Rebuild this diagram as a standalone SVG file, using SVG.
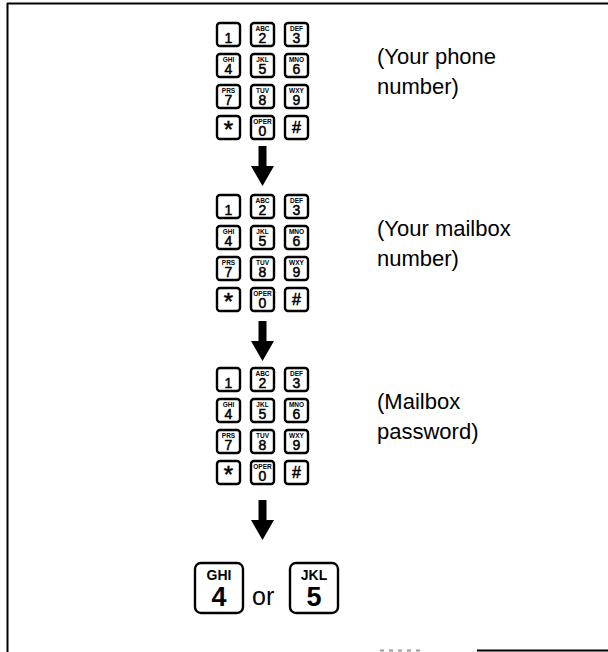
<svg xmlns="http://www.w3.org/2000/svg" width="608" height="652" viewBox="0 0 608 652">
<defs>
<style>
.k{fill:#fff;stroke:#000;stroke-width:2.4}
.s{font-family:"Liberation Sans",Arial,sans-serif;font-weight:bold;font-size:6.5px;text-anchor:middle;fill:#000}
.d{font-family:"Liberation Sans",Arial,sans-serif;font-size:14px;text-anchor:middle;fill:#000;stroke:#000;stroke-width:0.5}
.t{font-family:"Liberation Sans",Arial,sans-serif;font-size:22px;fill:#000}
.bk{fill:#fff;stroke:#000;stroke-width:2.4}
.bs{font-family:"Liberation Sans",Arial,sans-serif;font-weight:bold;font-size:14px;text-anchor:middle;fill:#000}
.bd{font-family:"Liberation Sans",Arial,sans-serif;font-weight:bold;font-size:27px;text-anchor:middle;fill:#000}
.ar{fill:#000}
</style>
<g id="keypad">
<rect class="k" x="0" y="0" width="23" height="23" rx="3"/><text class="d" x="11.5" y="20">1</text>
<rect class="k" x="34" y="0" width="23" height="23" rx="3"/><text class="s" x="45.5" y="8">ABC</text><text class="d" x="45.5" y="20">2</text>
<rect class="k" x="68" y="0" width="23" height="23" rx="3"/><text class="s" x="79.5" y="8">DEF</text><text class="d" x="79.5" y="20">3</text>
<rect class="k" x="0" y="31" width="23" height="23" rx="3"/><text class="s" x="11.5" y="39">GHI</text><text class="d" x="11.5" y="51">4</text>
<rect class="k" x="34" y="31" width="23" height="23" rx="3"/><text class="s" x="45.5" y="39">JKL</text><text class="d" x="45.5" y="51">5</text>
<rect class="k" x="68" y="31" width="23" height="23" rx="3"/><text class="s" x="79.5" y="39">MNO</text><text class="d" x="79.5" y="51">6</text>
<rect class="k" x="0" y="62" width="23" height="23" rx="3"/><text class="s" x="11.5" y="70">PRS</text><text class="d" x="11.5" y="82">7</text>
<rect class="k" x="34" y="62" width="23" height="23" rx="3"/><text class="s" x="45.5" y="70">TUV</text><text class="d" x="45.5" y="82">8</text>
<rect class="k" x="68" y="62" width="23" height="23" rx="3"/><text class="s" x="79.5" y="70">WXY</text><text class="d" x="79.5" y="82">9</text>
<rect class="k" x="0" y="93" width="23" height="23" rx="3"/><text class="d" x="11.5" y="115" style="font-size:24px">*</text>
<rect class="k" x="34" y="93" width="23" height="23" rx="3"/><text class="s" x="45.5" y="101">OPER</text><text class="d" x="45.5" y="113">0</text>
<rect class="k" x="68" y="93" width="23" height="23" rx="3"/><text class="d" x="79.5" y="110" style="font-size:16px">#</text>
</g>
<path id="arrow" class="ar" d="M-4,0 H4 V20 H11.5 L0,40 L-11.5,20 H-4 Z"/>
</defs>
<g id="frame" fill="none" stroke="#000" stroke-width="2">
<line x1="7" y1="3.5" x2="608" y2="3.5"/>
<line x1="7.5" y1="3" x2="7.5" y2="652"/>
<line x1="477" y1="650.5" x2="608" y2="650.5"/>
<line x1="380" y1="650.5" x2="423" y2="650.5" stroke="#999" stroke-dasharray="4 5"/>
</g>
<g id="keypad1"><use href="#keypad" x="217" y="23"/></g>
<g id="keypad2"><use href="#keypad" x="217" y="195"/></g>
<g id="keypad3"><use href="#keypad" x="217" y="368"/></g>
<g id="label1"><text class="t" x="377" y="64">(Your phone</text><text class="t" x="377" y="94">number)</text></g>
<g id="label2"><text class="t" x="377" y="236">(Your mailbox</text><text class="t" x="377" y="266">number)</text></g>
<g id="label3"><text class="t" x="377" y="409">(Mailbox</text><text class="t" x="377" y="439">password)</text></g>
<g id="key4"><rect class="bk" x="195" y="563" width="48" height="50" rx="6"/><text class="bs" x="219" y="580">GHI</text><text class="bd" x="219" y="606">4</text></g>
<g id="or"><text class="t" x="252" y="605" style="font-size:25px">or</text></g>
<g id="key5"><rect class="bk" x="290" y="563" width="48" height="50" rx="6"/><text class="bs" x="314" y="580">JKL</text><text class="bd" x="314" y="606">5</text></g>
<g id="connectors">
<use href="#arrow" x="262.5" y="146"/>
<use href="#arrow" x="262.5" y="321"/>
<use href="#arrow" x="262.5" y="500"/>
</g>
</svg>
